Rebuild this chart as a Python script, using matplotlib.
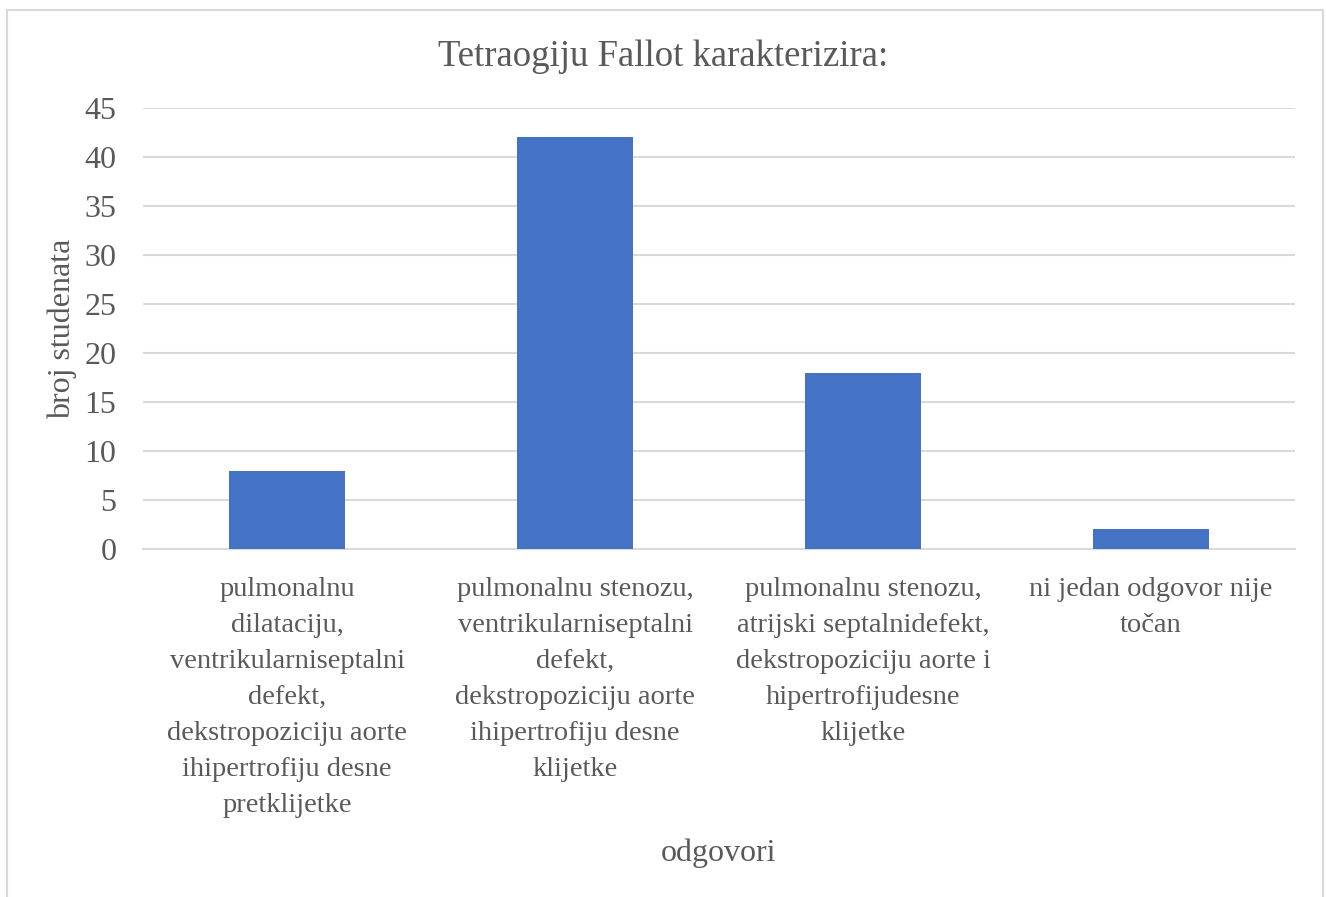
import matplotlib
matplotlib.use("Agg")
import matplotlib.pyplot as plt
from matplotlib.patches import Rectangle
import numpy as np

categories = [
    "pulmonalnu\ndilataciju,\nventrikularniseptalni\ndefekt,\ndekstropoziciju aorte\nihipertrofiju desne\npretklijetke",
    "pulmonalnu stenozu,\nventrikularniseptalni\ndefekt,\ndekstropoziciju aorte\nihipertrofiju desne\nklijetke",
    "pulmonalnu stenozu,\natrijski septalnidefekt,\ndekstropoziciju aorte i\nhipertrofijudesne\nklijetke",
    "ni jedan odgovor nije\ntočan",
]
values = [8, 42, 18, 2]
y_ticks = [0, 5, 10, 15, 20, 25, 30, 35, 40, 45]

text_color = "#595959"
grid_color = "#D9D9D9"
bar_color = "#4472C4"

plt.rcParams["font.family"] = ["Liberation Serif", "DejaVu Serif"]

fig = plt.figure(figsize=(13.26, 8.97), dpi=100)
fig.patches.append(Rectangle((7 / 1326, -0.1), 1316 / 1326, 1.1 - 10 / 897,
                             transform=fig.transFigure, fill=False,
                             edgecolor=grid_color, linewidth=1.5))

ax = fig.add_axes([143 / 1326, 1 - 549 / 897, 1152 / 1326, 441 / 897])
x = np.arange(len(categories))
ax.bar(x, values, width=0.4, color=bar_color, zorder=3)

ax.set_xlim(-0.5, len(categories) - 0.5)
ax.set_ylim(0, 45)
ax.set_yticks(y_ticks)
ax.set_xticks(x)
ax.set_xticklabels(categories, fontsize=20.5, color=text_color, linespacing=1.58)
ax.tick_params(axis="y", labelsize=23, labelcolor=text_color, length=0, pad=19)
ax.tick_params(axis="x", length=0, pad=20)
ax.grid(axis="y", color=grid_color, linewidth=1.5, zorder=0)
for s in ["top", "right", "left"]:
    ax.spines[s].set_visible(False)
ax.spines["bottom"].set_color(grid_color)
ax.spines["bottom"].set_linewidth(1.5)

ax.set_ylabel("broj studenata", fontsize=23, color=text_color)
ax.set_xlabel("odgovori", fontsize=23, color=text_color)
ax.xaxis.set_label_coords(0.5, -(838 - 549) / 441)
ax.yaxis.set_label_coords(-(143 - 77) / 1152, 0.5)
fig.text(0.5, 1 - 57 / 897, "Tetraogiju Fallot karakterizira:", fontsize=26.5,
         color=text_color, ha="center", va="center")

fig.savefig("out.png", dpi=100)
